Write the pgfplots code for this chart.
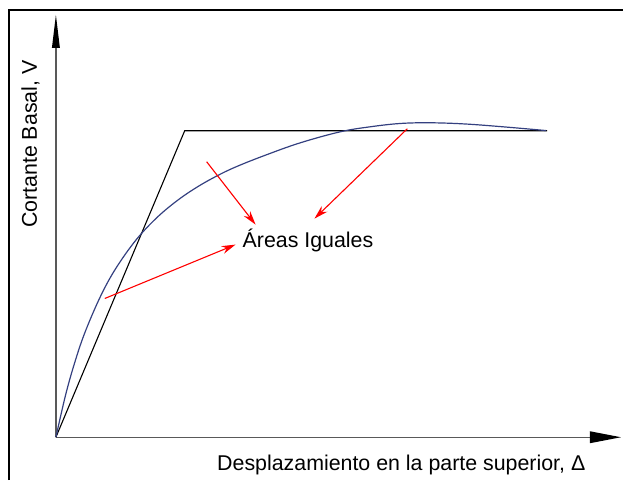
\documentclass[border=0pt]{standalone}
\usepackage{fontspec}
\setmainfont{Liberation Sans}
\usepackage{pgfplots}
\pgfplotsset{compat=1.18}
\usetikzlibrary{arrows.meta}
\definecolor{curveblue}{RGB}{52,64,128}
\begin{document}
\begin{tikzpicture}
\begin{axis}[
  scale only axis, width=312pt, height=240.5pt,
  xmin=0, xmax=624, ymin=0, ymax=481,
  hide axis, clip=false,
]
\path (axis cs:0,0) rectangle (axis cs:624,481);
% frame
\draw[line width=1.1pt] (axis cs:9,0) -- (axis cs:9,471) -- (axis cs:624,471);
% axes
\draw[black!65, line width=0.7pt] (axis cs:56,43) -- (axis cs:56,434);
\fill[black] (axis cs:56,466) -- (axis cs:52,433) -- (axis cs:60,433) -- cycle;
\draw[black!65, line width=0.7pt] (axis cs:56,43) -- (axis cs:592,43);
\fill[black] (axis cs:622,43) -- (axis cs:591,49) -- (axis cs:591,37) -- cycle;
% bilinear
\addplot[black, line width=0.55pt] coordinates {(56,43) (185,350) (548,350)};
% capacity curve
\addplot[curveblue, line width=0.6pt, smooth, tension=0.6] coordinates {
(56,43) (66,86.5) (76,121.5) (86,150.3) (101,184.8) (116,212.1) (136,240.3)
(156,261.9) (176,278.9) (196,292.7) (216,304.1) (236,313.7) (266,325.6)
(301,338) (341,349) (371,354) (401,357.3) (431,358) (466,356.8)
(506,353.8) (547,350.2)};
% red arrows
\draw[red, line width=0.55pt, -{Stealth[length=7pt,width=4pt]}] (axis cs:105,182) -- (axis cs:236,236);
\draw[red, line width=0.55pt, -{Stealth[length=7pt,width=4pt]}] (axis cs:207,319) -- (axis cs:256,256);
\draw[red, line width=0.55pt, -{Stealth[length=7pt,width=4pt]}] (axis cs:408,352) -- (axis cs:315,262);
% texts
\node[anchor=base, inner sep=0pt, font=\fontsize{10.7}{12}\selectfont] at (axis cs:308.5,233) {Áreas Iguales};
\node[anchor=base, inner sep=0pt, font=\fontsize{10.7}{12}\selectfont] at (axis cs:402,10) {Desplazamiento en la parte superior, Δ};
\node[rotate=90, anchor=base, inner sep=0pt, font=\fontsize{10.7}{12}\selectfont] at (axis cs:37,336.5) {Cortante Basal, V};
\end{axis}
\end{tikzpicture}
\end{document}
